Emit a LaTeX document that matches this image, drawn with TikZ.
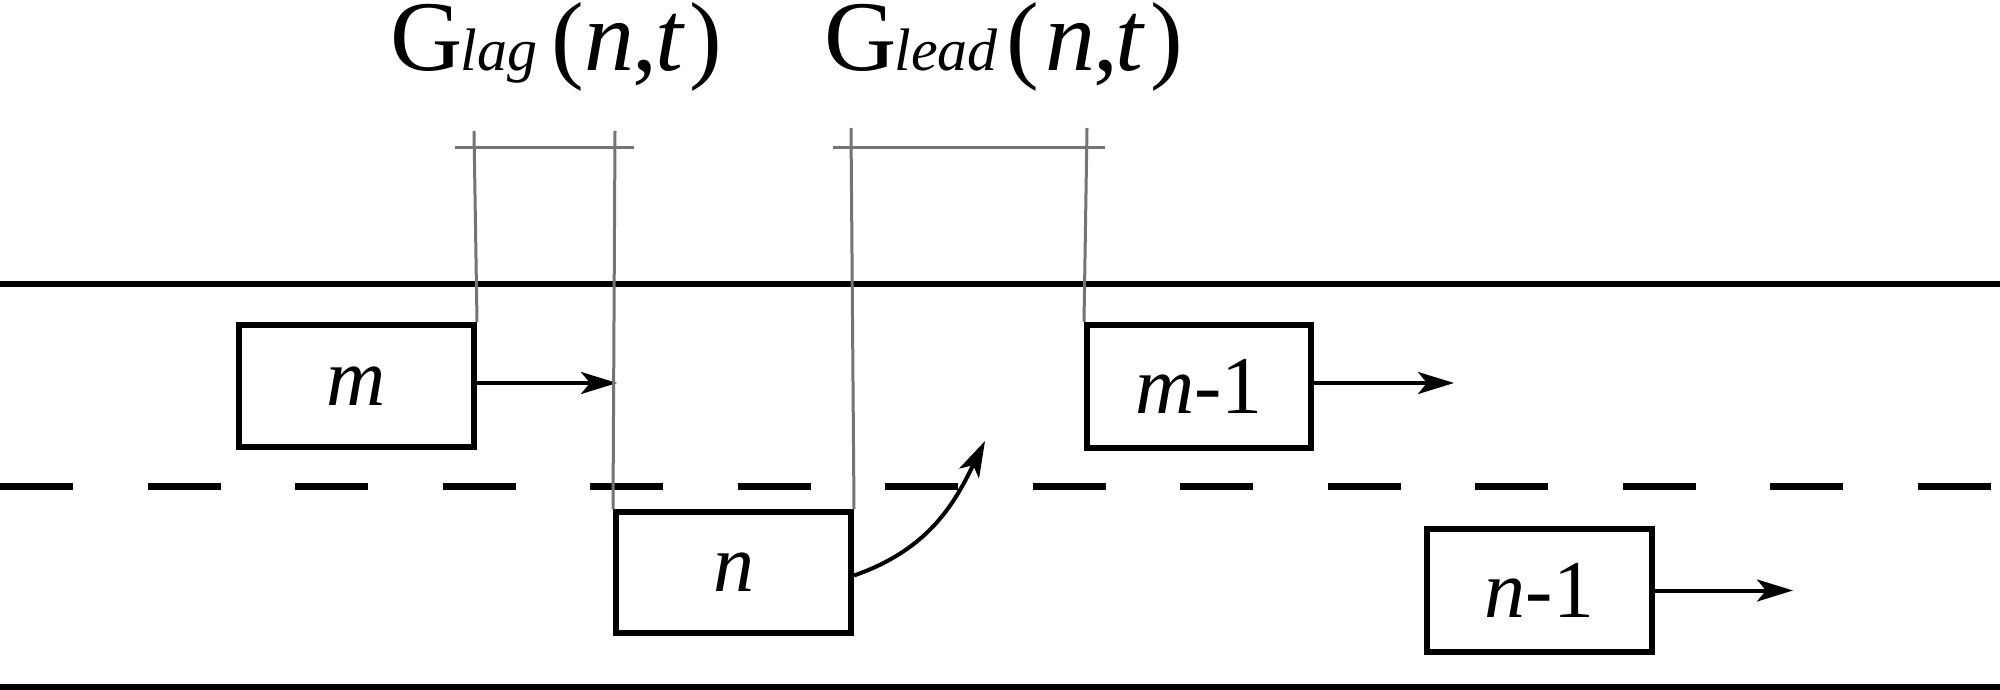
\documentclass[tikz,border=0pt]{standalone}
\usepackage{fontspec}
\setmainfont{Liberation Serif}
\usetikzlibrary{arrows.meta}
\definecolor{gline}{HTML}{747474}
\newcommand\bigf{\fontsize{100}{110}\selectfont}
\newcommand\subf{\fontsize{60}{66}\selectfont\itshape}
\newcommand\parf{\fontsize{98}{108}\selectfont}
\begin{document}
\begin{tikzpicture}[x=1pt,y=-1pt,
  road/.style={line width=6pt},
  lanemark/.style={line width=6.5pt, dash pattern=on 73pt off 74.5pt},
  car/.style={draw, line width=6pt, rectangle, inner sep=0pt, font=\fontsize{82}{90}\selectfont},
  arr/.style={line width=4pt, -{Stealth[length=36pt,width=22pt,inset=9pt]}},
  gapline/.style={draw=gline, line width=3pt},
  lbl/.style={anchor=base west, inner sep=0pt, text height=66pt, text depth=17pt}]
\useasboundingbox (0,0) rectangle (2000,690);
% road
\draw[road] (0,283.7) -- (2000,283.7);
\draw[road] (0,686.5) -- (2000,686.5);
\draw[lanemark] (0,486.3) -- (2000,486.3);
% vehicles
\node[car, minimum width=235pt, minimum height=122pt] (m) at (356.5,386) {\textit{m}};
\node[car, minimum width=235pt, minimum height=121pt] (n) at (733.5,572.5) {\textit{n}};
\node[car, minimum width=224pt, minimum height=123pt] (m1) at (1199,386.5) {\textit{m}-1};
\node[car, minimum width=225pt, minimum height=123pt] (n1) at (1539.5,590.5) {\textit{n}-1};
% motion arrows
\coordinate (mtip) at (617,383);
\coordinate (m1tip) at (1454,383);
\coordinate (n1tip) at (1793,590.5);
\coordinate (ntip) at (985,441);
\draw[arr] (m.east |- mtip) -- (mtip);
\draw[arr] (m1.east |- m1tip) -- (m1tip);
\draw[arr] (n1.east |- n1tip) -- (n1tip);
\draw[arr] ([yshift=-3pt]n.east) .. controls (930,549) and (955,502) .. (ntip);
% gap markers
\coordinate (lagA) at (474,131);
\coordinate (lagB) at (615,131);
\coordinate (leadA) at (851,128);
\coordinate (leadB) at (1087,128);
\coordinate (lagL) at (455,148);
\coordinate (lagR) at (634,148);
\coordinate (leadL) at (833,148);
\coordinate (leadR) at (1105,148);
\draw[gapline] (lagA) -- (m.north east);
\draw[gapline] (lagB) -- (n.north west);
\draw[gapline] (leadA) -- (n.north east);
\draw[gapline] (leadB) -- (m1.north west);
\draw[gapline] (lagL) -- (lagR);
\draw[gapline] (leadL) -- (leadR);
% labels
\node[lbl] (glag) at (390,71) {\bigf G\kern-2pt{\subf lag}\kern14pt{\parf(}\kern1pt\textit{n}\kern-2pt,\kern-2pt\textit{t}\kern4pt{\parf)}};
\node[lbl] (glead) at (824,71) {\bigf G\kern-2pt{\subf lead}\kern9pt{\parf(}\kern6pt\textit{n}\kern-2pt,\kern-3pt\textit{t}\kern5pt{\parf)}};
\end{tikzpicture}
\end{document}
